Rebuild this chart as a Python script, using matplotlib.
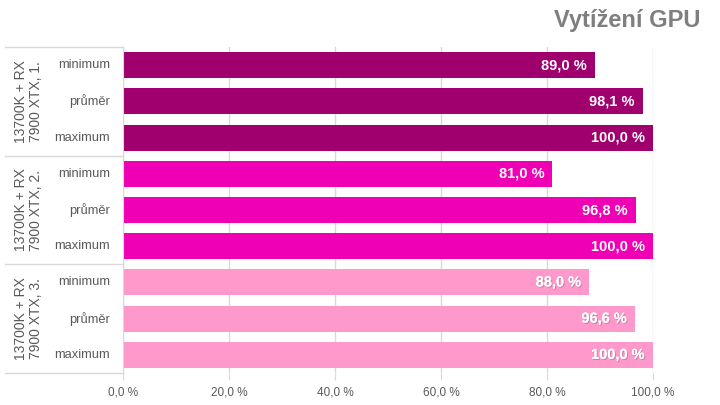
import matplotlib
matplotlib.use('Agg')
import matplotlib.pyplot as plt
import matplotlib.patheffects as pe

plt.rcParams['font.family'] = ['Liberation Sans', 'DejaVu Sans']

groups = ['13700K + RX\n7900 XTX, 1.', '13700K + RX\n7900 XTX, 2.', '13700K + RX\n7900 XTX, 3.']
rows = ['minimum', 'průměr', 'maximum']
values = [[89.0, 98.1, 100.0],
          [81.0, 96.8, 100.0],
          [88.0, 96.6, 100.0]]
colors = ['#A0006E', '#F000B4', '#FF99CC']
ticks = [0, 20, 40, 60, 80, 100]

fig = plt.figure(figsize=(7.2, 4.05), dpi=100)
ax = fig.add_axes([123/720, 32/405, 530/720, 326/405])

grid_c = '#d9d9d9'
text_c = '#595959'

for t in ticks:
    ax.axvline(t, color=grid_c, lw=1, zorder=0)

n = len(rows)
for g, (gname, vals, col) in enumerate(zip(groups, values, colors)):
    for r, v in enumerate(vals):
        y = g * n + r
        ax.barh(y, v, height=0.72, color=col, zorder=2)
        txt = ax.text(v - 1.5, y, ('%.1f %%' % v).replace('.', ','), ha='right', va='center',
                      color='white', fontsize=10.5, fontweight='bold', zorder=3)
        if g == 2:
            txt.set_path_effects([pe.withSimplePatchShadow(offset=(0.8, -0.8), alpha=0.3),
                                  pe.Normal()])
        ax.text(-0.024, y, rows[r], transform=ax.get_yaxis_transform(), ha='right',
                va='center', fontsize=9.3, color=text_c)
    ax.text(-0.178, g * n + 1, gname, transform=ax.get_yaxis_transform(), ha='center',
            va='center', rotation=90, fontsize=10, color=text_c, linespacing=1.05)

# group separator lines on the left
for b in range(len(groups) + 1):
    ax.plot([-0.223, 0], [b * n - 0.5] * 2, transform=ax.get_yaxis_transform(),
            color=grid_c, lw=1, clip_on=False)

ax.set_xlim(0, 100)
ax.set_ylim(len(groups) * n - 0.5, -0.5)
ax.set_yticks([])
ax.set_xticks(ticks)
ax.set_xticklabels([('%.1f %%' % t).replace('.', ',') for t in ticks], fontsize=8.5, color=text_c)
ax.tick_params(axis='x', length=5, color=grid_c, pad=5)
for s in ['top', 'right', 'bottom']:
    ax.spines[s].set_visible(False)
ax.spines['left'].set_color(grid_c)

fig.text(700/720, 1 - 27/405, 'Vytížení GPU', ha='right', va='baseline', fontsize=17,
         fontweight='bold', color='#7f7f7f')

fig.savefig('out.png', dpi=100)
